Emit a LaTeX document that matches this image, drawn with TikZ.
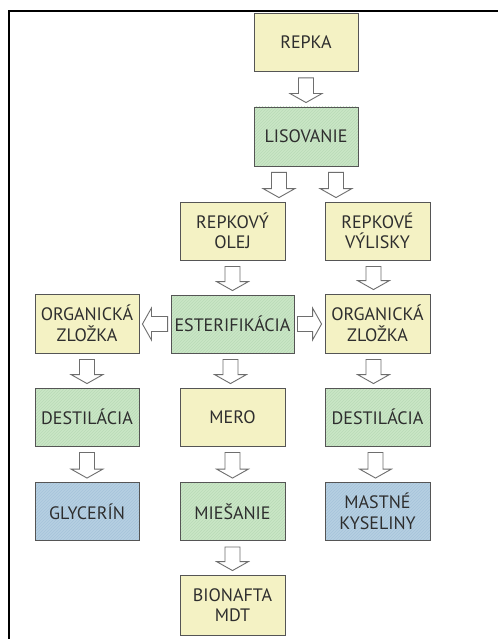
\documentclass[tikz,border=0pt]{standalone}
\usepackage{fontspec}
\setmainfont{PT Sans}
\usetikzlibrary{calc,patterns}
\definecolor{ybox}{HTML}{F4F2C4}
\definecolor{gbox}{HTML}{CAE6C6}
\definecolor{ghatch}{HTML}{B9DBB7}
\definecolor{bbox}{HTML}{B6D0E2}
\definecolor{bhatch}{HTML}{A6C3DA}
\definecolor{boxline}{HTML}{555555}
\definecolor{arrline}{HTML}{6E6E6E}
\definecolor{txt}{HTML}{2E2E2E}
\newcommand\varr[2]{\draw[blockarr] let \p1=(#1), \p2=(#2) in
  (\x1-7.5pt,\y1-6pt) -- (\x1-7.5pt,\y2+13pt) -- (\x1-16pt,\y2+13pt) -- (\x1,\y2+4pt)
  -- (\x1+16pt,\y2+13pt) -- (\x1+7.5pt,\y2+13pt) -- (\x1+7.5pt,\y1-6pt) -- cycle;}
\newcommand\rarr[2]{\draw[blockarr] let \p1=(#1), \p2=(#2) in
  (\x1+3pt,\y1+7.5pt) -- (\x2-12pt,\y1+7.5pt) -- (\x2-12pt,\y1+16pt) -- (\x2-3pt,\y1)
  -- (\x2-12pt,\y1-16pt) -- (\x2-12pt,\y1-7.5pt) -- (\x1+3pt,\y1-7.5pt) -- cycle;}
\newcommand\larr[2]{\draw[blockarr] let \p1=(#1), \p2=(#2) in
  (\x1-3pt,\y1+7.5pt) -- (\x2+12pt,\y1+7.5pt) -- (\x2+12pt,\y1+16pt) -- (\x2+3pt,\y1)
  -- (\x2+12pt,\y1-16pt) -- (\x2+12pt,\y1-7.5pt) -- (\x1-3pt,\y1-7.5pt) -- cycle;}
\begin{document}
\begin{tikzpicture}[x=1pt,y=-1pt,
  box/.style={draw=boxline, line width=0.9pt, minimum width=104pt, minimum height=58pt,
    inner sep=0pt, align=center, font=\fontsize{18}{20.5}\selectfont, text=txt},
  ybx/.style={box, fill=ybox},
  gbx/.style={box, preaction={fill=gbox}, pattern=north east lines, pattern color=ghatch},
  bbx/.style={box, preaction={fill=bbox}, pattern=north east lines, pattern color=bhatch},
  blockarr/.style={draw=arrline, fill=white, line width=0.9pt, line join=miter}]
\useasboundingbox (0,0) rectangle (498,639);
\fill[white] (0,0) rectangle (498,639);
\draw[line width=2.5pt, black] (9,639) -- (9,11) -- (498,11);

\node[ybx] (repka) at (306,42.5) {REPKA};
\node[gbx, minimum height=59pt] (lis) at (306,136.5) {LISOVANIE};
\node[ybx, minimum width=105pt] (olej) at (232.5,231) {REPKOVÝ\\OLEJ};
\node[ybx, minimum width=105pt] (vyl) at (377.5,231) {REPKOVÉ\\VÝLISKY};
\node[ybx, minimum height=59pt] (org1) at (87,323.5) {ORGANICKÁ\\ZLOŽKA};
\node[gbx, minimum width=123pt] (est) at (232.5,324) {ESTERIFIKÁCIA};
\node[ybx, minimum width=105pt, minimum height=59pt] (org2) at (377.5,323.5) {ORGANICKÁ\\ZLOŽKA};
\node[gbx] (dest1) at (87,417) {DESTILÁCIA};
\node[ybx, minimum width=105pt] (mero) at (232.5,417) {MERO};
\node[gbx, minimum width=105pt] (dest2) at (377.5,417) {DESTILÁCIA};
\node[bbx] (glyc) at (87,511.5) {GLYCERÍN};
\node[gbx, minimum width=105pt] (mies) at (232.5,511.5) {MIEŠANIE};
\node[bbx, minimum width=105pt] (mast) at (377.5,511.5) {MASTNÉ\\KYSELINY};
\node[ybx, minimum width=105pt, minimum height=60pt] (bio) at (232.5,605) {BIONAFTA\\MDT};

\varr{repka.south}{lis.north}
\varr{[xshift=-27pt]lis.south}{olej.north}
\varr{[xshift=30pt]lis.south}{vyl.north}
\varr{olej.south}{est.north}
\varr{[xshift=-4pt]vyl.south}{org2.north}
\larr{est.west}{org1.east}
\rarr{est.east}{org2.west}
\varr{org1.south}{dest1.north}
\varr{[xshift=-2pt]est.south}{mero.north}
\varr{[xshift=-4pt]org2.south}{dest2.north}
\varr{dest1.south}{glyc.north}
\varr{mero.south}{mies.north}
\varr{[xshift=-2pt]dest2.south}{mast.north}
\varr{mies.south}{bio.north}
\end{tikzpicture}
\end{document}
